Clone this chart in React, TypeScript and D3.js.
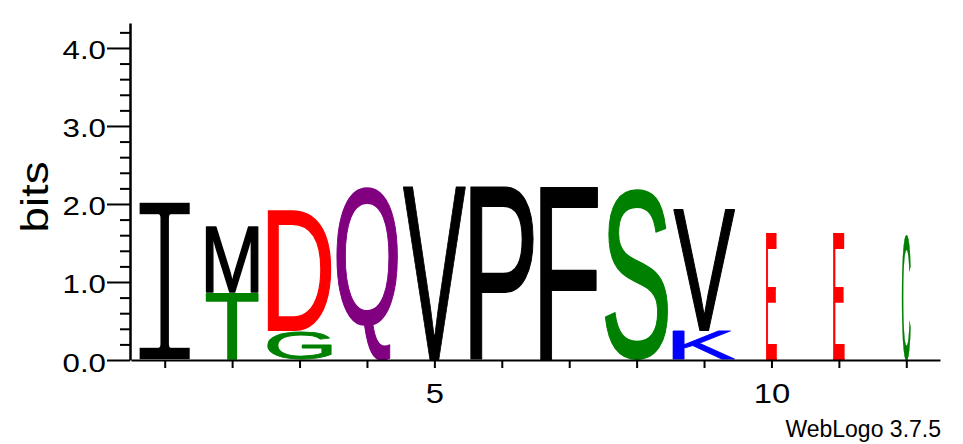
import React, { useEffect, useRef } from 'react';
import * as d3 from 'd3';

// sequence positions
const positions = [1, 2, 3, 4, 5, 6, 7, 8, 9, 10, 11, 12];
// stack width as a fraction of a full column (occupancy)
const columnWeights = [0.77, 0.83, 1.0, 0.97, 1.0, 1.0, 0.92, 1.0, 0.98, 0.19, 0.2, 0.16];
// letters of each stack, bottom to top
const stackLetters = [['I'], ['T', 'M'], ['G', 'D'], ['Q'], ['V'], ['P'], ['F'], ['S'], ['K', 'V'], ['E'], ['E'], ['C']];
// heights in bits, same order as stackLetters
const stackBits = [[2.05], [0.86, 0.85], [0.38, 1.55], [2.22], [2.22], [2.22], [2.22], [2.2], [0.38, 1.56], [1.63], [1.63], [1.6]];
const yMajorTicks = [0, 1, 2, 3, 4];
const yMinorTicks = [0.2, 0.4, 0.6, 0.8, 1.2, 1.4, 1.6, 1.8, 2.2, 2.4, 2.6, 2.8, 3.2, 3.4, 3.6, 3.8, 4.2];
const xLabelTicks = [5, 10];
const yMax = 4.32;

// WebLogo "chemistry" colour scheme
const chemistryColors: Record<string, string> = {
  G: '#008000', S: '#008000', T: '#008000', Y: '#008000', C: '#008000',
  N: '#800080', Q: '#800080',
  K: '#0000FF', R: '#0000FF', H: '#0000FF',
  D: '#FF0000', E: '#FF0000',
};

const WIDTH = 963;
const HEIGHT = 444;
const LABEL_FONT = '"Liberation Sans", Arial, sans-serif';

export default function App() {
  const svgRef = useRef<SVGSVGElement>(null);

  useEffect(() => {
    if (!svgRef.current) return;
    const svg = d3.select(svgRef.current);
    svg.selectAll('*').remove();

    const x = d3.scaleLinear().domain([0.5, 12.5]).range([131, 940]);
    const y = d3.scaleLinear().domain([0, yMax]).range([360, 23]);
    const bandW = x(1.5) - x(0.5);

    // glyph ink boxes measured on a canvas so each letter can be stretched to its box
    const ctx = document.createElement('canvas').getContext('2d')!;
    const glyphFont = (ch: string) =>
      ch === 'I'
        ? { family: '"Liberation Mono"', weight: 'normal' }
        : { family: '"Liberation Sans"', weight: 'normal' };
    const inkBox = (ch: string) => {
      const f = glyphFont(ch);
      ctx.font = `${f.weight} 200px ${f.family}`;
      const m = ctx.measureText(ch);
      return {
        l: m.actualBoundingBoxLeft,
        r: m.actualBoundingBoxRight,
        a: m.actualBoundingBoxAscent,
        d: m.actualBoundingBoxDescent,
      };
    };

    // letters drawn first so the axes sit on top
    const logo = svg.append('g');
    positions.forEach((pos, i) => {
      const w = columnWeights[i] * bandW * 0.95;
      let base = 0;
      stackLetters[i].forEach((ch, j) => {
        const bits = stackBits[i][j];
        let top = y(base + bits);
        let bottom = y(base);
        base += bits;
        // I is thinned with a white outline, so its box grows by the erosion
        const grow = ch === 'I' ? 3 : -0.75;
        const bx0 = x(pos) - w / 2 - grow;
        const bw = w + 2 * grow;
        top -= grow;
        bottom += grow;
        const b = inkBox(ch);
        const sx = bw / (b.l + b.r);
        const sy = (bottom - top) / (b.a + b.d);
        const f = glyphFont(ch);
        const color = chemistryColors[ch] || '#000000';
        logo
          .append('text')
          .attr('font-family', f.family)
          .attr('font-weight', f.weight)
          .attr('font-size', 200)
          .attr('fill', color)
          .attr('stroke', ch === 'I' ? '#ffffff' : color)
          .attr('stroke-width', ch === 'I' ? 6 : 1.5)
          .attr('stroke-linejoin', 'round')
          .attr('vector-effect', 'non-scaling-stroke')
          .attr('transform', `translate(${bx0},${top}) scale(${sx},${sy}) translate(${b.l},${b.a})`)
          .text(ch);
      });
    });

    // y axis: minor ticks first, then majors with labels
    svg
      .append('g')
      .attr('transform', 'translate(130,0)')
      .call(d3.axisLeft(y).tickValues(yMinorTicks).tickSize(10).tickSizeOuter(0).tickFormat(() => ''))
      .call(g => g.select('.domain').remove())
      .selectAll('.tick line')
      .attr('stroke', '#000')
      .attr('stroke-width', 2);

    const yAxisG = svg
      .append('g')
      .attr('transform', 'translate(130,0)')
      .call(d3.axisLeft(y).tickValues(yMajorTicks).tickSize(23).tickSizeOuter(0).tickFormat(d3.format('.1f')));
    yAxisG.select('.domain').attr('stroke', '#000').attr('stroke-width', 2.5);
    yAxisG.selectAll('.tick line').attr('stroke', '#000').attr('stroke-width', 2);
    yAxisG
      .selectAll('.tick text')
      .attr('x', 0)
      .attr('dy', '0.44em')
      .attr('transform', 'translate(-24,0) scale(1.25,1)')
      .attr('text-anchor', 'end')
      .attr('fill', '#000')
      .attr('font-size', 25)
      .attr('font-family', LABEL_FONT);

    // x axis
    const xAxisG = svg
      .append('g')
      .attr('transform', 'translate(0,360)')
      .call(
        d3
          .axisBottom(x)
          .tickValues(positions)
          .tickSize(8)
          .tickSizeOuter(0)
          .tickFormat(d => (xLabelTicks.includes(d as number) ? String(d) : ''))
      );
    xAxisG.select('.domain').attr('stroke', '#000').attr('stroke-width', 2);
    xAxisG.selectAll('.tick line').attr('stroke', '#000').attr('stroke-width', 2);
    xAxisG
      .selectAll('.tick text')
      .attr('y', 0)
      .attr('dy', 0)
      .attr('transform', 'translate(0,43) scale(1.17,1)')
      .attr('fill', '#000')
      .attr('font-size', 28)
      .attr('font-family', LABEL_FONT);

    // y axis title
    svg
      .append('text')
      .attr('transform', 'translate(48,197) rotate(-90) scale(1.2,1)')
      .attr('text-anchor', 'middle')
      .attr('font-size', 38)
      .attr('font-family', LABEL_FONT)
      .attr('fill', '#000')
      .text('bits');

    // footer
    svg
      .append('text')
      .attr('x', 941)
      .attr('y', 437)
      .attr('text-anchor', 'end')
      .attr('font-size', 23)
      .attr('font-family', LABEL_FONT)
      .attr('fill', '#000')
      .text('WebLogo 3.7.5');
  }, []);

  return (
    <svg
      ref={svgRef}
      width={WIDTH}
      height={HEIGHT}
      style={{ position: 'absolute', left: 0, top: 0, background: '#fff' }}
    ></svg>
  );
}
